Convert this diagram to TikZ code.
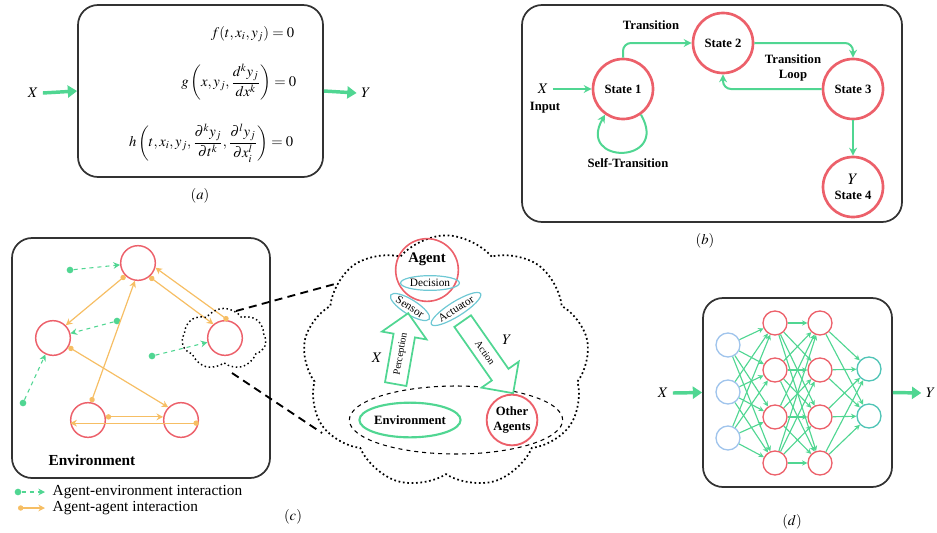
\documentclass[tikz,border=0pt]{standalone}
\usepackage{amsmath}
\usepackage{mathptmx}
\usepackage[no-math]{fontspec}
\setmainfont{Liberation Serif}
\usetikzlibrary{arrows.meta,shapes.geometric,shapes.symbols,shapes.arrows,calc}
\definecolor{gr}{RGB}{80,214,146}
\definecolor{rd}{RGB}{236,96,106}
\definecolor{blu}{RGB}{160,196,236}
\definecolor{tl}{RGB}{80,196,182}
\definecolor{org}{RGB}{246,190,100}
\definecolor{cy}{RGB}{110,200,212}
\definecolor{bx}{RGB}{50,50,50}
\tikzset{
  panel/.style={draw=bx, line width=1.3pt, rounded corners=15pt},
  bigarr/.style={draw=gr, line width=2.6pt, -{Triangle[length=7pt,width=9pt]}},
  garr/.style={draw=gr, line width=1.5pt, rounded corners=6pt, -{Stealth[length=6pt,width=6pt]}},
  stateb/.style={circle, draw=rd, line width=2pt, minimum size=45pt, inner sep=0pt, font=\fontsize{9.5}{11}\selectfont\bfseries, align=center},
  lbl/.style={font=\fontsize{9.5}{11}\selectfont\bfseries, align=center},
  agentc/.style={circle, draw=rd, line width=1.1pt, minimum size=26pt, inner sep=0pt},
  gdot/.style={circle, fill=gr, minimum size=5pt, inner sep=0pt},
  gdash/.style={draw=gr, line width=0.8pt, dashed, -{Stealth[length=5pt,width=5pt]}},
  oarr/.style={draw=org, line width=0.9pt, {Circle[length=4pt]}-{Stealth[length=5pt,width=5pt]}},
  cyel/.style={ellipse, draw=cy, line width=0.9pt, inner sep=0.5pt, font=\fontsize{8.5}{10}\selectfont},
  holarr/.style={single arrow, draw=gr, line width=1.3pt, fill=white, inner sep=2.5pt, single arrow head extend=7pt, single arrow head indent=0pt, font=\fontsize{7.5}{9}\selectfont},
  nnin/.style={circle, draw=blu, line width=1pt, minimum size=18pt, inner sep=0pt},
  nnh/.style={circle, draw=rd, line width=1pt, minimum size=18pt, inner sep=0pt},
  nnout/.style={circle, draw=tl, line width=1pt, minimum size=18pt, inner sep=0pt},
  nnarr/.style={draw=gr, line width=0.85pt, -{Stealth[length=4pt,width=4pt]}},
  eqn/.style={anchor=east, font=\fontsize{11}{13}\selectfont},
  captxt/.style={font=\fontsize{11}{13}\selectfont}
}
\begin{document}
\begin{tikzpicture}[x=0.75pt,y=-0.75pt]
\useasboundingbox (0,0) rectangle (937,532);

% ---------- panel (a)
\node[panel, minimum width=183.75pt, minimum height=129pt] (boxa) at (200.5,91) {};
\node[eqn] (eqf) at (299,34) {$f(t,x_i,y_j)=0$};
\node[eqn] (eqg) at (301,82) {$g\left(x,y_j,\dfrac{d^ky_j}{dx^k}\right)=0$};
\node[eqn] (eqh) at (298,143) {$h\left(t,x_i,y_j,\dfrac{\partial^ky_j}{\partial t^k},\dfrac{\partial^ly_j}{\partial x_i^l}\right)=0$};
\node[captxt] (xa) at (33,93) {$X$};
\node[captxt] (ya) at (366,93) {$Y$};
\draw[bigarr] (xa.east) -- (boxa.west);
\draw[bigarr] (boxa.east) -- (ya.west);
\node[captxt] (capa) at (200,196) {$(a)$};

% ---------- panel (b)
\node[panel, minimum width=285pt, minimum height=162.75pt] (boxb) at (712,113.5) {};
\node[stateb] (s1) at (623,89) {State 1};
\node[stateb] (s2) at (723,43) {State 2};
\node[stateb] (s3) at (853,89) {State 3};
\node[stateb] (s4) at (853,187) {{\fontsize{12}{13}\selectfont$Y$}\\State 4};
\node[captxt] (xb) at (543,89) {$X$};
\node[lbl] (inp) at (545,108) {Input};
\draw[garr] (xb.east) -- (s1.west);
\draw[garr] (s1.north) |- (s2.west);
\draw[garr] (s2.east) -| (s3.north);
\draw[garr] (s3.west) -| (s2.south);
\draw[garr] (s3.south) -- (s4.north);
\draw[garr] (s1.-55) .. controls +(60:58) and +(120:58) .. (s1.-125);
\node[lbl] (tr) at (651,25) {Transition};
\node[lbl] (trl) at (793,68) {Transition\\Loop};
\node[lbl] (st) at (628,163) {Self-Transition};
\node[captxt] (capb) at (705,241) {$(b)$};

% ---------- panel (c) left
\node[panel, minimum width=193.5pt, minimum height=180pt] (boxc) at (141,358) {};
\node[agentc] (a1) at (138,263) {};
\node[agentc] (a2) at (53,338) {};
\node[agentc] (a3) at (225,338) {};
\node[agentc] (a4) at (88,420) {};
\node[agentc] (a5) at (181,420) {};
\node[gdot] (e1) at (70,270) {};
\node[gdot] (e2) at (117,321) {};
\node[gdot] (e3) at (152,356) {};
\node[gdot] (e4) at (23,403) {};
\draw[gdash] (e1) -- (a1);
\draw[gdash] (e2) -- (a2);
\draw[gdash] (e3) -- (a3);
\draw[gdash] (e4) -- (a2);
\draw[oarr] (a1.-135) -- (a2.45);
\draw[oarr] (a1.-50) -- (a3.130);
\draw[oarr] (a3.80) -- (a1.-15);
\draw[oarr] (a4.80) -- (a1.-100);
\draw[oarr] (a2.-30) -- (a5.135);
\draw[oarr] (a4.10) -- (a5.170);
\draw[oarr] (a5.-10) -- (a4.-170);
\node[font=\fontsize{11.5}{13}\selectfont\bfseries] (envl) at (92,460) {Environment};
\node[cloud, draw, dotted, line width=1.1pt, cloud puffs=7, cloud puff arc=110, aspect=1.4, minimum width=63pt, minimum height=46pt, inner sep=0pt] (sc) at (224,339) {};
% legend
\node[gdot] (lg1) at (18,492) {};
\coordinate (lg1e) at (45,492);
\draw[gdash] (lg1) -- (lg1e);
\node[anchor=west, font=\fontsize{11.5}{13}\selectfont] (lgt1) at (48,492) {Agent-environment interaction};
\coordinate (lg2s) at (18,508);
\coordinate (lg2e) at (45,508);
\draw[oarr] (lg2s) -- (lg2e);
\node[anchor=west, font=\fontsize{11.5}{13}\selectfont] (lgt2) at (48,508) {Agent-agent interaction};

% ---------- panel (c) right
\node[cloud, draw, dotted, line width=1.3pt, cloud puffs=9, cloud puff arc=100, aspect=1.15, minimum width=215pt, minimum height=190pt, inner sep=0pt] (bc) at (446,362) {};
\coordinate (d1s) at (236,311);
\coordinate (d1e) at (335,284);
\coordinate (d2s) at (232,373);
\coordinate (d2e) at (322,433);
\draw[dashed, line width=1.4pt, dash pattern=on 6pt off 4pt] (d1s) -- (d1e);
\draw[dashed, line width=1.4pt, dash pattern=on 6pt off 4pt] (d2s) -- (d2e);
\node[ellipse, draw, dashed, line width=0.8pt, minimum width=160pt, minimum height=51pt] (envel) at (456,420) {};
\node[circle, draw=rd, line width=1.2pt, minimum size=47pt, inner sep=0pt] (ag) at (427,270) {};
\node[font=\fontsize{11}{13}\selectfont\bfseries] (agt) at (427,259) {Agent};
\node[cyel, minimum width=43pt, minimum height=11pt] (dec) at (430,283) {Decision};
\node[cyel, rotate=-32, minimum width=30pt, minimum height=11pt] (sen) at (410,307) {Sensor};
\node[cyel, rotate=32, minimum width=36pt, minimum height=11pt] (act) at (456,309) {Actuator};
\node[holarr, rotate=80, minimum height=54pt, minimum width=34pt] (perc) at (401,354) {Perception};
\node[holarr, rotate=-55, minimum height=66pt, minimum width=34pt] (actn) at (485,353) {Action};
\node[captxt] (xc) at (377,358) {$X$};
\node[captxt] (yc) at (507,340) {$Y$};
\node[ellipse, draw=gr, line width=1.6pt, minimum width=64pt, minimum height=26pt, inner sep=0pt, font=\fontsize{9.5}{11}\selectfont\bfseries] (envn) at (410,420) {Environment};
\node[circle, draw=rd, line width=1.4pt, minimum size=38pt, inner sep=0pt, align=center, font=\fontsize{9.5}{11}\selectfont\bfseries] (oth) at (512,420) {Other\\Agents};
\node[captxt] (capc) at (293,517) {$(c)$};

% ---------- panel (d)
\node[panel, minimum width=141.75pt, minimum height=141.75pt] (boxd) at (797.5,392.5) {};
\foreach \i/\y in {1/345,2/392,3/438} \node[nnin] (i\i) at (728,\y) {};
\foreach \i/\y in {1/323,2/370,3/417,4/463} {
  \node[nnh] (h\i) at (775,\y) {};
  \node[nnh] (k\i) at (820,\y) {};
}
\foreach \i/\y in {1/369,2/416} \node[nnout] (o\i) at (869,\y) {};
\foreach \a in {1,2,3} \foreach \b in {1,2,3,4} \draw[nnarr] (i\a) -- (h\b);
\foreach \a in {1,2,3,4} \foreach \b in {1,2,3,4} \draw[nnarr] (h\a) -- (k\b);
\foreach \a in {1,2,3,4} \foreach \b in {1,2} \draw[nnarr] (k\a) -- (o\b);
\node[captxt] (xd) at (663,393) {$X$};
\node[captxt, anchor=east] (yd) at (940,393) {$Y$};
\draw[bigarr] (xd.east) -- (boxd.west);
\draw[bigarr] (boxd.east) -- (yd.west);
\node[captxt] (capd) at (792,522) {$(d)$};
\end{tikzpicture}
\end{document}
